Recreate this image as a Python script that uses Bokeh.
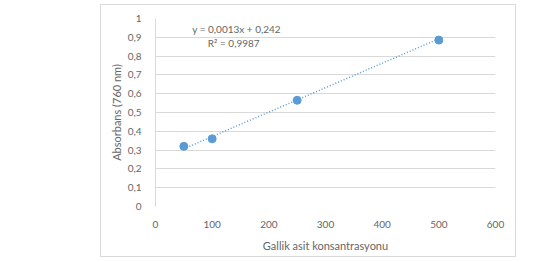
from bokeh.plotting import figure
from bokeh.embed import file_html
from bokeh.resources import INLINE
from bokeh.models import FixedTicker, Label, Range1d
from bokeh.core.properties import value

conc = [50, 100, 250, 500]
absorb = [0.32, 0.36, 0.565, 0.885]
slope, intercept = 0.0013, 0.242
y_ticks = [0, 0.1, 0.2, 0.3, 0.4, 0.5, 0.6, 0.7, 0.8, 0.9, 1]
y_labels = ["0", "0,1", "0,2", "0,3", "0,4", "0,5", "0,6", "0,7", "0,8", "0,9", "1"]
x_ticks = [0, 100, 200, 300, 400, 500, 600]

FONT = "Lato"
GRAY = "#666666"
BLUE = "#5B9BD5"

p = figure(width=416, height=253, output_backend="svg", toolbar_location=None,
           x_range=Range1d(0, 600), y_range=Range1d(0, 1),
           min_border_left=54, min_border_right=22, min_border_top=13, min_border_bottom=52,
           margin=(4, 0, 0, 100),
           styles={"border": "1px solid #d9d9d9"})
p.outline_line_color = None
p.background_fill_color = "white"
p.border_fill_color = "white"

p.xgrid.grid_line_color = None
p.ygrid.grid_line_color = "#d9d9d9"
p.ygrid.ticker = FixedTicker(ticks=y_ticks)

p.yaxis.ticker = FixedTicker(ticks=y_ticks)
p.yaxis.major_label_overrides = {t: l for t, l in zip(y_ticks, y_labels)}
p.xaxis.ticker = FixedTicker(ticks=x_ticks)

for ax in (p.xaxis[0], p.yaxis[0]):
    ax.major_tick_line_color = None
    ax.minor_tick_line_color = None
    ax.major_label_text_font = FONT
    ax.major_label_text_font_size = "10px"
    ax.major_label_text_color = GRAY
    ax.axis_label_text_font = FONT
    ax.axis_label_text_font_size = "11px"
    ax.axis_label_text_color = GRAY
    ax.axis_label_text_font_style = "normal"
p.xaxis.axis_line_color = None
p.yaxis.axis_line_color = "#d9d9d9"
p.xaxis.axis_label = "Gallik asit konsantrasyonu"
p.yaxis.axis_label = "Absorbans (760 nm)"
p.xaxis.major_label_standoff = 8
p.yaxis.major_label_standoff = 8
p.xaxis.axis_label_standoff = 8
p.yaxis.axis_label_standoff = 2

x0, x1 = min(conc), max(conc)
p.line([x0, x1], [slope * x0 + intercept, slope * x1 + intercept],
       line_color=BLUE, line_width=1.5, line_dash="1 2")
p.scatter(conc, absorb, size=8, fill_color=BLUE, line_color=BLUE)

p.add_layout(Label(x=143, y=0.945, text="y = 0,0013x + 0,242", text_align="center",
                   text_baseline="middle", text_font=FONT, text_font_size="10px",
                   text_color=GRAY))
p.add_layout(Label(x=138, y=0.87, text="R² = 0,9987", text_align="center",
                   text_baseline="middle", text_font=FONT, text_font_size="10px",
                   text_color=GRAY))

open("out.html", "w").write(file_html(p, INLINE))
